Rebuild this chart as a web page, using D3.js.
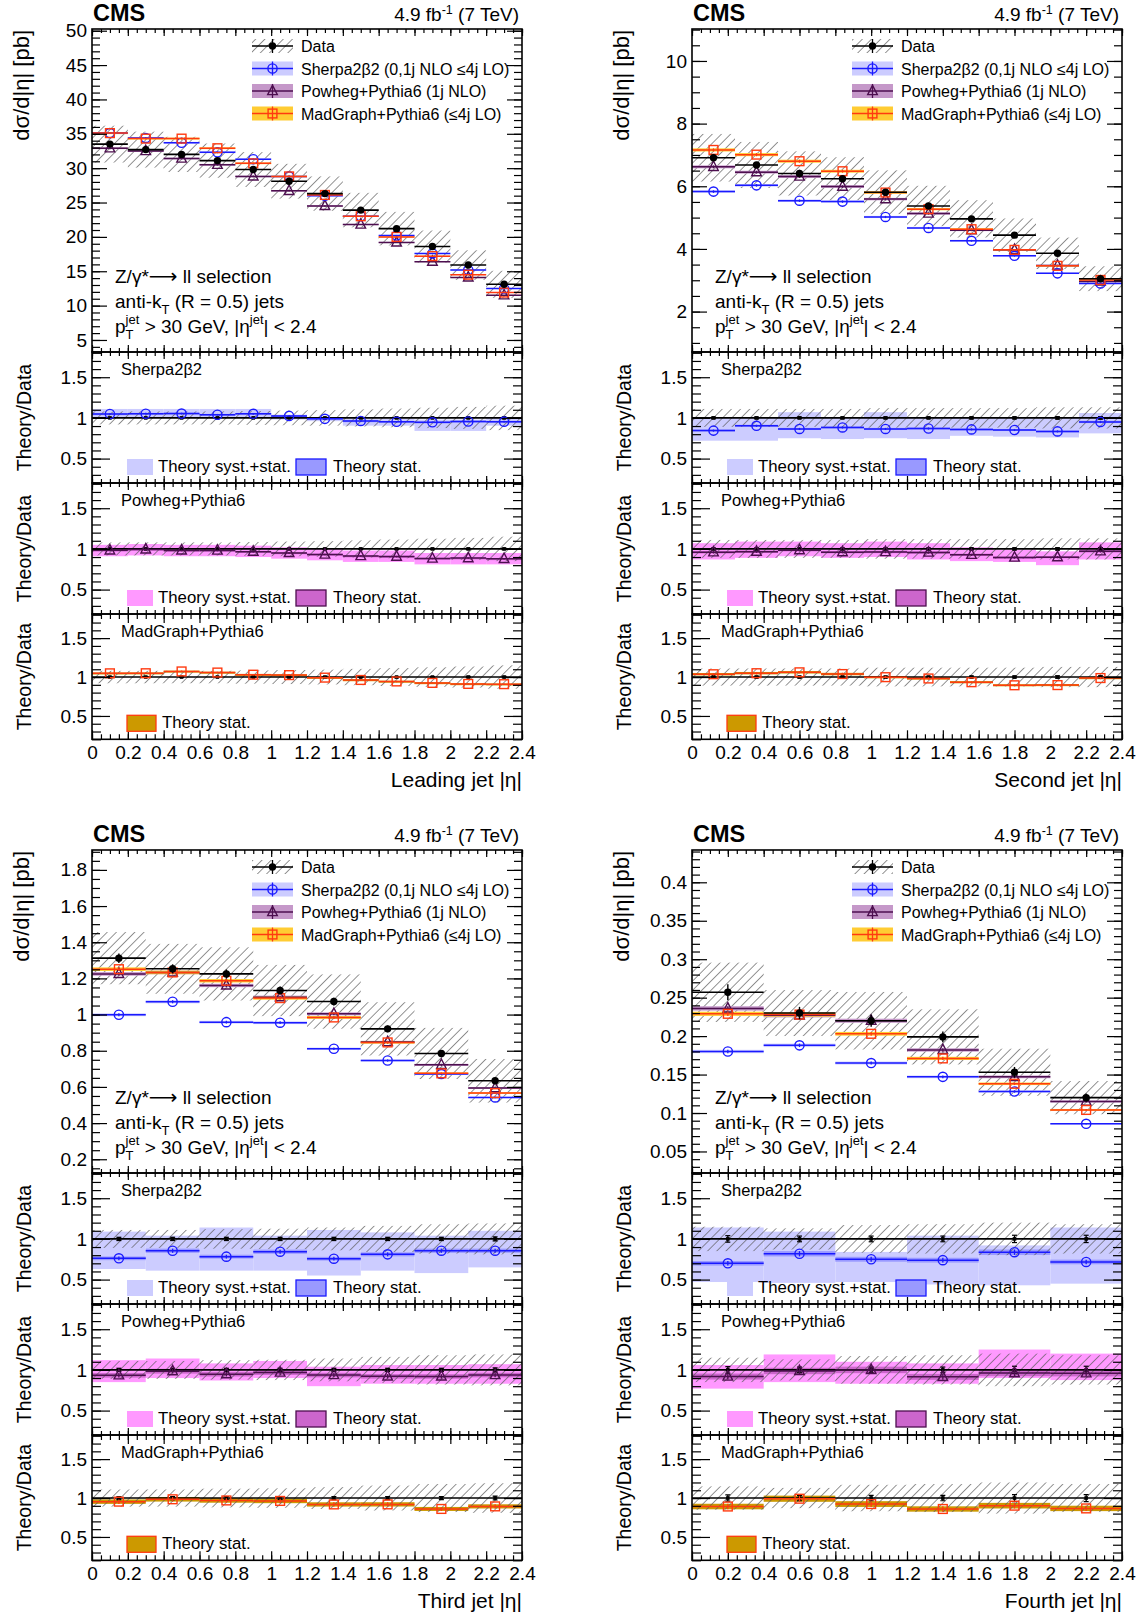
<!DOCTYPE html>
<html>
<head>
<meta charset="utf-8">
<script src="https://cdn.jsdelivr.net/npm/d3@7"></script>
<style>
  body { margin: 0; background: #fff; }
  svg { display: block; }
</style>
</head>
<body>
<svg id="figura" width="1143" height="1617"></svg>
<script>
// secciones eficaces dσ/d|η| de los cuatro jets (Z+jets, CMS 7 TeV) con sus
// tres paneles de cociente teoria/datos debajo. todo sale de los arreglos de abajo

// ---- jet lider ----
var lider_bordes = [0, 0.2, 0.4, 0.6, 0.8, 1.0, 1.2, 1.4, 1.6, 1.8, 2.0, 2.2, 2.4];
var lider_datos = [33.5, 32.7, 32.0, 31.1, 29.8, 28.1, 26.3, 23.9, 21.2, 18.6, 15.9, 13.1];
var lider_sistDatos = [0.08, 0.08, 0.08, 0.08, 0.085, 0.09, 0.095, 0.105, 0.115, 0.125, 0.135, 0.15];
var lider_estDatos = [0.005, 0.005, 0.005, 0.005, 0.005, 0.005, 0.006, 0.006, 0.007, 0.007, 0.008, 0.009];
var lider_sherpa = [35.1, 34.4, 33.7, 32.3, 31.3, 28.8, 26.0, 23.0, 20.2, 17.6, 15.2, 12.5];
var lider_powheg = [32.9, 32.5, 31.4, 30.5, 28.8, 26.7, 24.5, 21.8, 19.2, 16.4, 14.1, 11.5];
var lider_madgraph = [35.1, 34.3, 34.3, 32.9, 30.7, 28.8, 26.1, 23.0, 20.0, 17.2, 14.5, 11.9];
var lider_sherpaBajo = [1.01, 1.01, 1.01, 1.01, 1.01, 0.98, 0.96, 0.905, 0.905, 0.84, 0.84, 0.905];
var lider_sherpaAlto = [1.11, 1.11, 1.11, 1.11, 1.11, 1.04, 1.01, 0.99, 0.99, 0.98, 0.98, 1.01];
var lider_powhegBajo = [0.91, 0.92, 0.91, 0.91, 0.90, 0.88, 0.86, 0.84, 0.84, 0.81, 0.81, 0.81];
var lider_powhegAlto = [1.05, 1.06, 1.05, 1.05, 1.04, 1.02, 1.00, 0.98, 0.98, 0.95, 0.95, 0.95];
var lider_ticksY = [5, 10, 15, 20, 25, 30, 35, 40, 45, 50];
var lider_rangoY = [3.25, 50.25];

// ---- segundo jet ----
var segundo_bordes = [0, 0.24, 0.48, 0.72, 0.96, 1.2, 1.44, 1.68, 1.92, 2.16, 2.4];
var segundo_datos = [6.91, 6.68, 6.41, 6.24, 5.81, 5.37, 4.96, 4.44, 3.86, 3.05];
var segundo_sistDatos = [0.11, 0.11, 0.11, 0.11, 0.12, 0.12, 0.12, 0.12, 0.13, 0.13];
var segundo_estDatos = [0.01, 0.01, 0.01, 0.01, 0.01, 0.01, 0.012, 0.012, 0.014, 0.015];
var segundo_sherpa = [5.83, 6.03, 5.54, 5.51, 5.02, 4.67, 4.26, 3.78, 3.22, 2.90];
var segundo_powheg = [6.62, 6.45, 6.31, 5.99, 5.59, 5.13, 4.60, 3.97, 3.47, 2.96];
var segundo_madgraph = [7.16, 7.01, 6.80, 6.48, 5.80, 5.27, 4.63, 3.97, 3.46, 3.01];
var segundo_sherpaBajo = [0.72, 0.72, 0.75, 0.74, 0.75, 0.74, 0.78, 0.77, 0.76, 0.81];
var segundo_sherpaAlto = [1.01, 1.01, 1.07, 1.01, 1.07, 1.01, 1.00, 1.00, 1.00, 1.06];
var segundo_powhegBajo = [0.87, 0.89, 0.91, 0.89, 0.90, 0.87, 0.85, 0.84, 0.80, 0.87];
var segundo_powhegAlto = [1.07, 1.09, 1.09, 1.07, 1.09, 1.07, 1.02, 0.99, 0.97, 1.08];
var segundo_ticksY = [2, 4, 6, 8, 10];
var segundo_rangoY = [0.71, 11.02];

// ---- tercer jet ----
var tercero_bordes = [0, 0.3, 0.6, 0.9, 1.2, 1.5, 1.8, 2.1, 2.4];
var tercero_datos = [1.312, 1.253, 1.225, 1.133, 1.072, 0.921, 0.785, 0.634];
var tercero_sistDatos = [0.11, 0.11, 0.12, 0.125, 0.14, 0.16, 0.18, 0.19];
var tercero_estDatos = [0.02, 0.02, 0.02, 0.02, 0.02, 0.02, 0.02, 0.025];
var tercero_sherpa = [0.999, 1.071, 0.958, 0.955, 0.811, 0.746, 0.671, 0.542];
var tercero_powheg = [1.225, 1.233, 1.161, 1.096, 1.004, 0.848, 0.722, 0.594];
var tercero_madgraph = [1.251, 1.233, 1.187, 1.091, 0.984, 0.846, 0.675, 0.566];
var tercero_sherpaBajo = [0.63, 0.61, 0.61, 0.61, 0.55, 0.61, 0.58, 0.65];
var tercero_sherpaAlto = [1.09, 1.04, 1.14, 1.04, 1.11, 1.08, 1.04, 1.10];
var tercero_powhegBajo = [0.85, 0.90, 0.87, 0.90, 0.80, 0.83, 0.83, 0.83];
var tercero_powhegAlto = [1.12, 1.14, 1.08, 1.11, 1.04, 1.06, 1.06, 1.07];
var tercero_ticksY = [0.2, 0.4, 0.6, 0.8, 1, 1.2, 1.4, 1.6, 1.8];
var tercero_rangoY = [0.124, 1.91];

// ---- cuarto jet ----
var cuarto_bordes = [0, 0.4, 0.8, 1.2, 1.6, 2.0, 2.4];
var cuarto_datos = [0.257, 0.230, 0.220, 0.199, 0.153, 0.120];
var cuarto_sistDatos = [0.15, 0.13, 0.17, 0.18, 0.20, 0.18];
var cuarto_estDatos = [0.04, 0.035, 0.035, 0.035, 0.045, 0.045];
var cuarto_sherpa = [0.180, 0.188, 0.165, 0.147, 0.128, 0.086];
var cuarto_powheg = [0.236, 0.227, 0.220, 0.182, 0.147, 0.115];
var cuarto_madgraph = [0.229, 0.228, 0.203, 0.171, 0.138, 0.104];
var cuarto_sherpaBajo = [0.47, 0.46, 0.47, 0.44, 0.43, 0.45];
var cuarto_sherpaAlto = [1.14, 1.09, 0.84, 1.04, 0.92, 1.14];
var cuarto_powhegBajo = [0.77, 0.85, 0.83, 0.83, 0.90, 0.875];
var cuarto_powhegAlto = [1.06, 1.19, 1.10, 1.08, 1.25, 1.20];
var cuarto_ticksY = [0.05, 0.1, 0.15, 0.2, 0.25, 0.3, 0.35, 0.4];
var cuarto_rangoY = [0.022, 0.442];

// cosas comunes
var ticksX = [0, 0.2, 0.4, 0.6, 0.8, 1, 1.2, 1.4, 1.6, 1.8, 2, 2.2, 2.4];
var ticksRazon = [0.5, 1, 1.5];
var titulosX = ["Leading jet |η|", "Second jet |η|", "Third jet |η|", "Fourth jet |η|"];
var menoresY = [1, 0.5, 0.05, 0.01];
var estTeoria = [0.01, 0.015, 0.03, 0.04];      // banda estadistica en los cocientes
var estPrinc = [0.004, 0.007, 0.008, 0.012];    // la misma banda vista en el panel principal
var etiquetasLeyenda = ["Data", "Sherpa2β2 (0,1j NLO ≤4j LO)", "Powheg+Pythia6 (1j NLO)", "MadGraph+Pythia6 (≤4j LO)"];
var nombresRazon = ["Sherpa2β2", "Powheg+Pythia6", "MadGraph+Pythia6"];

(function () {
  var svg = d3.select("#figura");
  var FUENTE = '"Liberation Sans", Arial, Helvetica, sans-serif';
  var ANCHO = 430, ALTO_PRINC = 323, ALTOS_RAZON = [131, 131, 125.3];
  var DOM_RAZON = [0.2, 1.81];
  var GRIS_RAYA = "#5a5a5a";

  var COLORES = {
    sherpa: { linea: "#1a1aff", banda: "#ccccff", sist: "#ccccff", est: "#9999ff" },
    powheg: { linea: "#4d0f4f", banda: "#c598c9", sist: "#ff99ff", est: "#cc66cc" },
    madgraph: { linea: "#ff3a10", banda: "#ffcc33", est: "#cc9900" }
  };

  svg.attr("font-family", FUENTE);
  var defs = svg.append("defs");
  defs.append("pattern")
    .attr("id", "rayado")
    .attr("patternUnits", "userSpaceOnUse")
    .attr("width", 6.5).attr("height", 6.5)
    .attr("patternTransform", "rotate(45)")
    .append("line")
    .attr("x1", 0).attr("y1", 0).attr("x2", 0).attr("y2", 6.5)
    .attr("stroke", GRIS_RAYA).attr("stroke-width", 1.3);

  function fmt(v) { return String(+v.toFixed(3)); }

  function menores(dom, paso) {
    var out = [];
    for (var k = Math.ceil(dom[0] / paso - 1e-9); k * paso <= dom[1] + 1e-9; k++) {
      out.push(+(k * paso).toFixed(5));
    }
    return out;
  }

  function estilizar(g) {
    g.select(".domain").remove();
    g.selectAll(".tick line").attr("stroke", "#000").attr("stroke-width", 1.2);
    g.selectAll(".tick text").attr("font-size", 19).attr("font-family", FUENTE).attr("fill", "#000");
  }

  // ticks verticales a los dos lados (etiquetas solo a la izquierda)
  function ejesY(escala, izq, der, mayores, paso, largoMay, largoMen) {
    var mens = menores(escala.domain(), paso);
    estilizar(svg.append("g").attr("transform", "translate(" + izq + ",0)")
      .call(d3.axisLeft(escala).tickValues(mayores).tickSizeInner(-largoMay).tickSizeOuter(0).tickPadding(5).tickFormat(fmt)));
    estilizar(svg.append("g").attr("transform", "translate(" + izq + ",0)")
      .call(d3.axisLeft(escala).tickValues(mens).tickSizeInner(-largoMen).tickSizeOuter(0).tickFormat("")));
    estilizar(svg.append("g").attr("transform", "translate(" + der + ",0)")
      .call(d3.axisRight(escala).tickValues(mayores).tickSizeInner(-largoMay).tickSizeOuter(0).tickFormat("")));
    estilizar(svg.append("g").attr("transform", "translate(" + der + ",0)")
      .call(d3.axisRight(escala).tickValues(mens).tickSizeInner(-largoMen).tickSizeOuter(0).tickFormat("")));
  }

  function ejesX(escala, arriba, abajo, largoMay, largoMen, conEtiquetas) {
    var mens = menores([0, 2.4], 0.05);
    estilizar(svg.append("g").attr("transform", "translate(0," + arriba + ")")
      .call(d3.axisTop(escala).tickValues(ticksX).tickSizeInner(-largoMay).tickSizeOuter(0).tickFormat("")));
    estilizar(svg.append("g").attr("transform", "translate(0," + arriba + ")")
      .call(d3.axisTop(escala).tickValues(mens).tickSizeInner(-largoMen).tickSizeOuter(0).tickFormat("")));
    estilizar(svg.append("g").attr("transform", "translate(0," + abajo + ")")
      .call(d3.axisBottom(escala).tickValues(ticksX).tickSizeInner(-largoMay).tickSizeOuter(0).tickPadding(6.5)
        .tickFormat(conEtiquetas ? fmt : "")));
    estilizar(svg.append("g").attr("transform", "translate(0," + abajo + ")")
      .call(d3.axisBottom(escala).tickValues(mens).tickSizeInner(-largoMen).tickSizeOuter(0).tickFormat("")));
  }

  function marca(g, tipo, cx, cy, color) {
    if (tipo === "circulo") {
      g.append("circle").attr("cx", cx).attr("cy", cy).attr("r", 4.6)
        .attr("fill", "none").attr("stroke", color).attr("stroke-width", 1.4);
    } else if (tipo === "triangulo") {
      g.append("path")
        .attr("d", "M" + cx + "," + (cy - 5.8) + "L" + (cx - 4.8) + "," + (cy + 3.6) + "L" + (cx + 4.8) + "," + (cy + 3.6) + "Z")
        .attr("fill", "none").attr("stroke", color).attr("stroke-width", 1.4);
    } else if (tipo === "cuadrado") {
      g.append("rect").attr("x", cx - 4.4).attr("y", cy - 4.4).attr("width", 8.8).attr("height", 8.8)
        .attr("fill", "none").attr("stroke", color).attr("stroke-width", 1.4);
    } else {
      g.append("circle").attr("cx", cx).attr("cy", cy).attr("r", 3.7).attr("fill", "#000");
    }
  }

  function linea(g, x1, y1, x2, y2, color, ancho) {
    g.append("line").attr("x1", x1).attr("y1", y1).attr("x2", x2).attr("y2", y2)
      .attr("stroke", color).attr("stroke-width", ancho || 1.5);
  }

  function marco(x, y, w, h) {
    svg.append("rect").attr("x", x).attr("y", y).attr("width", w).attr("height", h)
      .attr("fill", "none").attr("stroke", "#000").attr("stroke-width", 1.6);
  }

  var contClip = 0;
  function grupoRecortado(x, y, w, h) {
    var id = "recorte" + (contClip++);
    defs.append("clipPath").attr("id", id).append("rect")
      .attr("x", x).attr("y", y).attr("width", w).attr("height", h);
    return svg.append("g").attr("clip-path", "url(#" + id + ")");
  }

  function dibujarPanel(p) {
    var ox = p.ox, oy = p.oy;
    var x = d3.scaleLinear().domain([0, 2.4]).range([ox, ox + ANCHO]);
    var y = d3.scaleLinear().domain(p.rangoY).range([oy + ALTO_PRINC, oy]);
    var bins = p.datos.map(function (v, i) {
      return { i: i, x0: p.bordes[i], x1: p.bordes[i + 1], xc: (p.bordes[i] + p.bordes[i + 1]) / 2 };
    });
    var modelos = [
      { clave: "powheg", valores: p.powheg, tipo: "triangulo" },
      { clave: "sherpa", valores: p.sherpa, tipo: "circulo" },
      { clave: "madgraph", valores: p.madgraph, tipo: "cuadrado" }
    ];

    // ---------- panel principal ----------
    var g = grupoRecortado(ox, oy, ANCHO, ALTO_PRINC);

    g.selectAll(null).data(bins).enter().append("rect")
      .attr("x", function (d) { return x(d.x0); })
      .attr("width", function (d) { return x(d.x1) - x(d.x0); })
      .attr("y", function (d) { return y(p.datos[d.i] * (1 + p.sistDatos[d.i])); })
      .attr("height", function (d) {
        return y(p.datos[d.i] * (1 - p.sistDatos[d.i])) - y(p.datos[d.i] * (1 + p.sistDatos[d.i]));
      })
      .attr("fill", "url(#rayado)");

    modelos.forEach(function (m) {
      g.selectAll(null).data(bins).enter().append("rect")
        .attr("x", function (d) { return x(d.x0); })
        .attr("width", function (d) { return x(d.x1) - x(d.x0); })
        .attr("y", function (d) { return y(m.valores[d.i] * (1 + p.estPrinc)); })
        .attr("height", function (d) {
          return y(m.valores[d.i] * (1 - p.estPrinc)) - y(m.valores[d.i] * (1 + p.estPrinc));
        })
        .attr("fill", COLORES[m.clave].banda);
    });

    modelos.forEach(function (m) {
      var c = COLORES[m.clave].linea;
      bins.forEach(function (d) {
        var v = m.valores[d.i];
        linea(g, x(d.x0), y(v), x(d.x1), y(v), c, 1.5);
        linea(g, x(d.xc), y(v * (1 + p.estPrinc)), x(d.xc), y(v * (1 - p.estPrinc)), c, 1.3);
        marca(g, m.tipo, x(d.xc), y(v), c);
      });
    });

    bins.forEach(function (d) {
      var v = p.datos[d.i], e = p.estDatos[d.i];
      linea(g, x(d.x0), y(v), x(d.x1), y(v), "#000", 1.6);
      linea(g, x(d.xc), y(v * (1 + e)), x(d.xc), y(v * (1 - e)), "#000", 1.4);
      marca(g, "dato", x(d.xc), y(v), "#000");
    });

    ejesY(y, ox, ox + ANCHO, p.ticksY, p.menorY, 15, 8);
    ejesX(x, oy, oy + ALTO_PRINC, 7, 4, false);
    marco(ox, oy, ANCHO, ALTO_PRINC);

    // leyenda principal
    var filas = [17, 39.5, 62, 84.5];
    var lx = ox + 160, lw = 41, lh = 14;
    etiquetasLeyenda.forEach(function (txt, k) {
      var cy = oy + filas[k], cx = lx + lw / 2;
      if (k === 0) {
        svg.append("rect").attr("x", lx).attr("y", cy - lh / 2).attr("width", lw).attr("height", lh).attr("fill", "url(#rayado)");
        linea(svg, lx, cy, lx + lw, cy, "#000", 1.5);
        linea(svg, cx, cy - 7, cx, cy + 7, "#000", 1.3);
        marca(svg, "dato", cx, cy, "#000");
      } else {
        var m = ["sherpa", "powheg", "madgraph"][k - 1];
        var tipo = ["circulo", "triangulo", "cuadrado"][k - 1];
        var col = COLORES[m];
        svg.append("rect").attr("x", lx).attr("y", cy - lh / 2).attr("width", lw).attr("height", lh).attr("fill", col.banda);
        linea(svg, lx, cy, lx + lw, cy, col.linea, 1.5);
        linea(svg, cx, cy - 7, cx, cy + 7, col.linea, 1.3);
        marca(svg, tipo, cx, cy, col.linea);
      }
      svg.append("text").attr("x", ox + 209).attr("y", cy + 6)
        .attr("font-size", 16).text(txt);
    });

    // textos de seleccion (la flecha larga y fina, como la de root)
    var t1 = svg.append("text").attr("x", ox + 23).attr("y", oy + 254).attr("font-size", 19);
    t1.append("tspan").text("Z/γ*");
    t1.append("tspan").attr("font-family", "DejaVu Sans").attr("font-size", 20).text("⟶");
    t1.append("tspan").text(" ll selection");
    var t2 = svg.append("text").attr("x", ox + 23).attr("y", oy + 279).attr("font-size", 19);
    t2.append("tspan").text("anti-k");
    t2.append("tspan").attr("font-size", 13).attr("dy", 6).text("T");
    t2.append("tspan").attr("dy", -6).text(" (R = 0.5) jets");
    var t3 = svg.append("text").attr("x", ox + 23).attr("y", oy + 304).attr("font-size", 19);
    t3.append("tspan").text("p");
    t3.append("tspan").attr("font-size", 13).attr("dy", -9).text("jet");
    t3.append("tspan").attr("font-size", 13).attr("dx", -13.7).attr("dy", 15).text("T");
    t3.append("tspan").attr("dx", 5.8).attr("dy", -6).text(" > 30 GeV, |η");
    t3.append("tspan").attr("font-size", 13).attr("dy", -9).text("jet");
    t3.append("tspan").attr("dy", 9).text("| < 2.4");

    // cabecera
    svg.append("text").attr("x", ox + 1).attr("y", oy - 8).attr("font-size", 23.5)
      .attr("font-weight", "bold").text("CMS");
    var lum = svg.append("text").attr("x", ox + ANCHO - 3).attr("y", oy - 8)
      .attr("font-size", 19).attr("text-anchor", "end");
    lum.append("tspan").text("4.9 fb");
    lum.append("tspan").attr("font-size", 12.5).attr("dy", -7).text("-1");
    lum.append("tspan").attr("dy", 7).text(" (7 TeV)");

    svg.append("text").attr("transform", "translate(" + (ox - 63.5) + "," + (oy + 1) + ") rotate(-90)")
      .attr("text-anchor", "end").attr("font-size", 22).text("dσ/d|η| [pb]");

    // ---------- paneles de cociente ----------
    var arriba = oy + ALTO_PRINC;
    ["sherpa", "powheg", "madgraph"].forEach(function (clave, k) {
      var h = ALTOS_RAZON[k];
      var top = arriba;
      arriba += h;
      var ry = d3.scaleLinear().domain(DOM_RAZON).range([top + h, top]);
      var valores = p[clave];
      var col = COLORES[clave];
      var tipo = ["circulo", "triangulo", "cuadrado"][k];
      var razones = valores.map(function (v, i) { return v / p.datos[i]; });
      var gr = grupoRecortado(ox, top, ANCHO, h);

      if (k < 2) {
        var bajo = p[clave + "Bajo"], alto = p[clave + "Alto"];
        gr.selectAll(null).data(bins).enter().append("rect")
          .attr("x", function (d) { return x(d.x0); })
          .attr("width", function (d) { return x(d.x1) - x(d.x0); })
          .attr("y", function (d) { return ry(alto[d.i]); })
          .attr("height", function (d) { return ry(bajo[d.i]) - ry(alto[d.i]); })
          .attr("fill", col.sist);
      }
      gr.selectAll(null).data(bins).enter().append("rect")
        .attr("x", function (d) { return x(d.x0); })
        .attr("width", function (d) { return x(d.x1) - x(d.x0); })
        .attr("y", function (d) { return ry(razones[d.i] * (1 + p.estTeoria)); })
        .attr("height", function (d) {
          return Math.max(2, ry(razones[d.i] * (1 - p.estTeoria)) - ry(razones[d.i] * (1 + p.estTeoria)));
        })
        .attr("fill", col.est);

      gr.selectAll(null).data(bins).enter().append("rect")
        .attr("x", function (d) { return x(d.x0); })
        .attr("width", function (d) { return x(d.x1) - x(d.x0); })
        .attr("y", function (d) { return ry(1 + p.sistDatos[d.i]); })
        .attr("height", function (d) { return ry(1 - p.sistDatos[d.i]) - ry(1 + p.sistDatos[d.i]); })
        .attr("fill", "url(#rayado)");

      linea(gr, ox, ry(1), ox + ANCHO, ry(1), "#000", 1.6);
      bins.forEach(function (d) {
        var e = p.estDatos[d.i], cx = x(d.xc);
        linea(gr, cx, ry(1 + e), cx, ry(1 - e), "#000", 1.3);
        linea(gr, cx - 2.5, ry(1 + e), cx + 2.5, ry(1 + e), "#000", 1.2);
        linea(gr, cx - 2.5, ry(1 - e), cx + 2.5, ry(1 - e), "#000", 1.2);
        gr.append("rect").attr("x", cx - 1.8).attr("y", ry(1) - 1.8).attr("width", 3.6).attr("height", 3.6).attr("fill", "#000");
      });

      bins.forEach(function (d) {
        var r = razones[d.i];
        linea(gr, x(d.x0), ry(r), x(d.x1), ry(r), col.linea, 1.5);
        linea(gr, x(d.xc), ry(r * (1 + p.estTeoria)), x(d.xc), ry(r * (1 - p.estTeoria)), col.linea, 1.3);
        marca(gr, tipo, x(d.xc), ry(r), col.linea);
      });

      ejesY(ry, ox, ox + ANCHO, ticksRazon, 0.1, 18, 9);
      ejesX(x, top, top + h, k === 2 ? 9 : 7, k === 2 ? 5 : 4, k === 2);
      marco(ox, top, ANCHO, h);

      svg.append("text").attr("x", ox + 29).attr("y", top + 23).attr("font-size", 16.5).text(nombresRazon[k]);
      svg.append("text").attr("transform", "translate(" + (ox - 61) + "," + (top + h / 2) + ") rotate(-90)")
        .attr("text-anchor", "middle").attr("font-size", 19.5).text("Theory/Data");

      var base = top + h;
      if (k < 2) {
        svg.append("rect").attr("x", ox + 35).attr("y", base - 24).attr("width", 26).attr("height", 16).attr("fill", col.sist);
        svg.append("text").attr("x", ox + 66).attr("y", base - 11).attr("font-size", 16.8).text("Theory syst.+stat.");
        svg.append("rect").attr("x", ox + 204).attr("y", base - 24).attr("width", 30).attr("height", 16)
          .attr("fill", col.est).attr("stroke", col.linea).attr("stroke-width", 1.3);
        svg.append("text").attr("x", ox + 241).attr("y", base - 11).attr("font-size", 16.8).text("Theory stat.");
      } else {
        svg.append("rect").attr("x", ox + 35).attr("y", base - 24).attr("width", 29).attr("height", 16)
          .attr("fill", col.est).attr("stroke", col.linea).attr("stroke-width", 1.3);
        svg.append("text").attr("x", ox + 70).attr("y", base - 11).attr("font-size", 16.8).text("Theory stat.");
      }
    });

    svg.append("text").attr("x", ox + ANCHO).attr("y", arriba + 48).attr("text-anchor", "end")
      .attr("font-size", 21).text(p.titulo);
  }

  var paneles = [
    { ox: 92, oy: 29, titulo: titulosX[0], bordes: lider_bordes, datos: lider_datos, sistDatos: lider_sistDatos,
      estDatos: lider_estDatos, sherpa: lider_sherpa, powheg: lider_powheg, madgraph: lider_madgraph,
      sherpaBajo: lider_sherpaBajo, sherpaAlto: lider_sherpaAlto, powhegBajo: lider_powhegBajo, powhegAlto: lider_powhegAlto,
      ticksY: lider_ticksY, rangoY: lider_rangoY, menorY: menoresY[0], estTeoria: estTeoria[0], estPrinc: estPrinc[0] },
    { ox: 692, oy: 29, titulo: titulosX[1], bordes: segundo_bordes, datos: segundo_datos, sistDatos: segundo_sistDatos,
      estDatos: segundo_estDatos, sherpa: segundo_sherpa, powheg: segundo_powheg, madgraph: segundo_madgraph,
      sherpaBajo: segundo_sherpaBajo, sherpaAlto: segundo_sherpaAlto, powhegBajo: segundo_powhegBajo, powhegAlto: segundo_powhegAlto,
      ticksY: segundo_ticksY, rangoY: segundo_rangoY, menorY: menoresY[1], estTeoria: estTeoria[1], estPrinc: estPrinc[1] },
    { ox: 92, oy: 850, titulo: titulosX[2], bordes: tercero_bordes, datos: tercero_datos, sistDatos: tercero_sistDatos,
      estDatos: tercero_estDatos, sherpa: tercero_sherpa, powheg: tercero_powheg, madgraph: tercero_madgraph,
      sherpaBajo: tercero_sherpaBajo, sherpaAlto: tercero_sherpaAlto, powhegBajo: tercero_powhegBajo, powhegAlto: tercero_powhegAlto,
      ticksY: tercero_ticksY, rangoY: tercero_rangoY, menorY: menoresY[2], estTeoria: estTeoria[2], estPrinc: estPrinc[2] },
    { ox: 692, oy: 850, titulo: titulosX[3], bordes: cuarto_bordes, datos: cuarto_datos, sistDatos: cuarto_sistDatos,
      estDatos: cuarto_estDatos, sherpa: cuarto_sherpa, powheg: cuarto_powheg, madgraph: cuarto_madgraph,
      sherpaBajo: cuarto_sherpaBajo, sherpaAlto: cuarto_sherpaAlto, powhegBajo: cuarto_powhegBajo, powhegAlto: cuarto_powhegAlto,
      ticksY: cuarto_ticksY, rangoY: cuarto_rangoY, menorY: menoresY[3], estTeoria: estTeoria[3], estPrinc: estPrinc[3] }
  ];

  paneles.forEach(dibujarPanel);
})();
</script>
</body>
</html>
